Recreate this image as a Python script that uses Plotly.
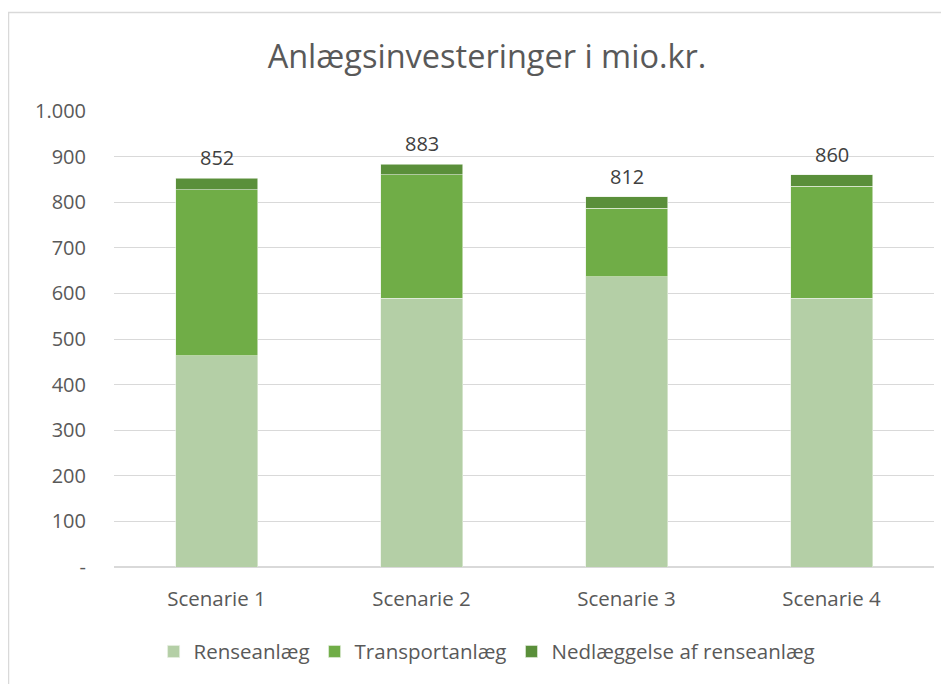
import plotly.graph_objects as go

categories = ["Scenarie 1", "Scenarie 2", "Scenarie 3", "Scenarie 4"]
renseanlaeg = [463, 589, 636, 589]
transportanlaeg = [364, 271, 151, 246]
nedlaeggelse = [25, 23, 25, 25]
totals = [852, 883, 812, 860]
tick_vals = [0, 100, 200, 300, 400, 500, 600, 700, 800, 900, 1000]
tick_text = ["-", "100", "200", "300", "400", "500", "600", "700", "800", "900", "1.000"]

FONT = "Open Sans"
GREY = "#595959"

W, H = 941, 676
L, R, T, B = 106, 15, 103, 115
PW, PH = W - L - R, H - T - B

fig = go.Figure()
fig.add_trace(go.Bar(name="Renseanlæg", x=categories, y=renseanlaeg,
                     marker=dict(color="#b4cfa6", line=dict(color="#e8f0e2", width=0.6))))
fig.add_trace(go.Bar(name="Transportanlæg", x=categories, y=transportanlaeg,
                     marker=dict(color="#70ad47", line=dict(color="#e8f0e2", width=0.6))))
fig.add_trace(go.Bar(name="Nedlæggelse af renseanlæg", x=categories, y=nedlaeggelse,
                     marker=dict(color="#5a8f3a", line=dict(color="#e8f0e2", width=0.6))))

annotations = [dict(x=c, y=t, text=f"{t}", showarrow=False, yanchor="bottom", yshift=5,
                    font=dict(family=FONT, size=20, color="#404040"))
               for c, t in zip(categories, totals)]

fig.update_layout(
    width=W, height=H,
    barmode="stack", bargap=0.6,
    paper_bgcolor="white", plot_bgcolor="white",
    margin=dict(l=L, r=R, t=T, b=B),
    title=dict(text="Anlægsinvesteringer i mio.kr.", x=479 / W, xanchor="center",
               y=1 - 49 / H, yanchor="middle",
               font=dict(family=FONT, size=32.5, color=GREY)),
    font=dict(family=FONT, color=GREY, size=20),
    legend=dict(orientation="h", x=0.455, xanchor="center", y=-(646 - (H - B)) / PH, yanchor="middle",
                font=dict(size=20.5, color=GREY), itemwidth=30, traceorder="normal"),
    xaxis=dict(showline=False, tickfont=dict(size=20.5, color=GREY), ticks="", ticklabelstandoff=17),
    yaxis=dict(range=[0, 1000], tickvals=tick_vals, ticktext=tick_text, showgrid=True,
               gridcolor="#d9d9d9", gridwidth=1, zeroline=True, zerolinecolor="#d9d9d9",
               tickfont=dict(size=20, color=GREY), ticklabelstandoff=27),
    annotations=annotations,
    shapes=[dict(type="rect", xref="paper", yref="paper",
                 x0=(0.5 - L) / PW, x1=(W + 20 - L) / PW,
                 y0=-(B + 30) / PH, y1=(H - 4 - B) / PH,
                 line=dict(color="#d9d9d9", width=1.5), fillcolor="rgba(0,0,0,0)", layer="below")],
)

fig.write_html("out.html")
